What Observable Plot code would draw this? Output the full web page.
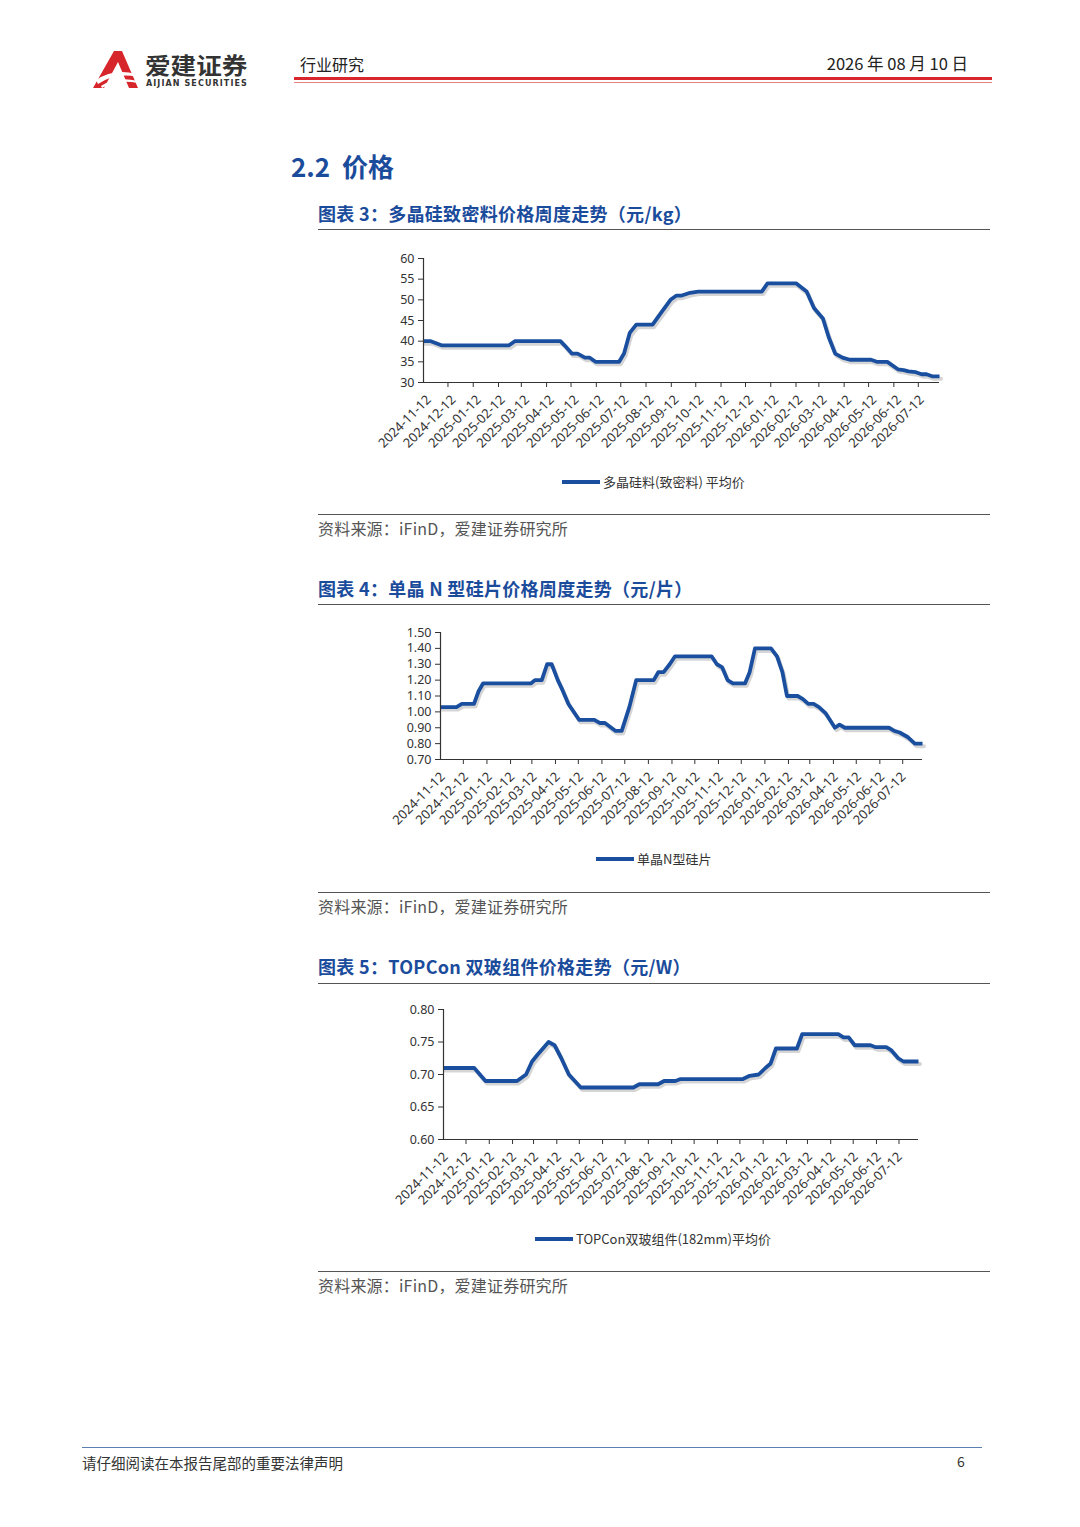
<!DOCTYPE html>
<html><head><meta charset="utf-8">
<script src="https://cdn.jsdelivr.net/npm/d3@7"></script>
<script src="https://cdn.jsdelivr.net/npm/@observablehq/plot@0.6"></script>
<style>
body{margin:0;background:#fff;font-family:"Noto Sans CJK SC","Noto Sans",sans-serif;}
#page{position:relative;width:1080px;height:1527px;overflow:hidden;background:#fff;}
.abs{position:absolute;white-space:nowrap;line-height:1.2;}
.hr{position:absolute;height:0;}
.title{color:#1b4c9c;font-weight:bold;font-size:18px;letter-spacing:0.3px;}
.src{color:#555;font-size:16px;letter-spacing:0.2px;}
.legend{position:absolute;font-size:13px;color:#333;display:flex;align-items:center;}
.legend span.sw{display:inline-block;width:38px;height:4px;background:#1a4f9f;margin-right:3px;}
.chart{position:absolute;}
</style></head>
<body><div id="page">
<!-- header -->
<svg class="abs" style="left:92px;top:50px" width="48" height="40" viewBox="0 0 48 40">
  <path d="M22 1 L30 1 L46 38 L37 38 L26 12 L12 38 L1 38 Z" fill="#d7262b"/>
  <path d="M4 30 Q22 18 44 24 L45 27 Q24 22 6 34 Z" fill="#fff"/>
  <path d="M9 36 Q24 26 46 31 L46 33 Q25 29 10 38 Z" fill="#fff"/>
</svg>
<div class="abs" style="left:145px;top:54px;font-size:20px;line-height:20px;height:20px;font-weight:bold;color:#333;transform:scale(1.28,1.12);transform-origin:0 0">爱建证券</div>
<div class="abs" style="left:146px;top:80px;font-size:8px;line-height:8px;font-weight:bold;color:#333;font-family:'DejaVu Sans';letter-spacing:1.1px">AIJIAN SECURITIES</div>
<div class="abs" style="left:300px;top:55px;font-size:16px;color:#222">行业研究</div>
<div class="abs" style="right:112px;top:54px;font-size:16.5px;color:#222">2026 年 08 月 10 日</div>
<div class="hr" style="left:294px;top:77px;width:698px;border-top:3px solid #d9262c"></div>
<div class="hr" style="left:294px;top:81.5px;width:698px;border-top:1px solid #e58080"></div>

<div class="abs" style="left:291px;top:150px;font-size:26px;font-weight:bold;color:#1b4c9c">2.2&nbsp; 价格</div>

<!-- chart 3 -->
<div class="abs title" style="left:318px;top:203px">图表 3：多晶硅致密料价格周度走势（元/kg）</div>
<div class="hr" style="left:318px;top:229px;width:672px;border-top:1.5px solid #555"></div>
<div id="c1" class="chart" style="left:318px;top:245px"></div>
<div class="legend" style="left:562px;top:472px"><span class="sw"></span>多晶硅料(致密料) 平均价</div>
<div class="hr" style="left:318px;top:514px;width:672px;border-top:1.5px solid #555"></div>
<div class="abs src" style="left:318px;top:519px">资料来源：iFinD，爱建证券研究所</div>

<!-- chart 4 -->
<div class="abs title" style="left:318px;top:578px">图表 4：单晶 N 型硅片价格周度走势（元/片）</div>
<div class="hr" style="left:318px;top:604px;width:672px;border-top:1.5px solid #555"></div>
<div id="c2" class="chart" style="left:318px;top:620px"></div>
<div class="legend" style="left:596px;top:849px"><span class="sw"></span>单晶N型硅片</div>
<div class="hr" style="left:318px;top:892px;width:672px;border-top:1.5px solid #555"></div>
<div class="abs src" style="left:318px;top:897px">资料来源：iFinD，爱建证券研究所</div>

<!-- chart 5 -->
<div class="abs title" style="left:318px;top:956px">图表 5：TOPCon 双玻组件价格走势（元/W）</div>
<div class="hr" style="left:318px;top:983px;width:672px;border-top:1.5px solid #555"></div>
<div id="c3" class="chart" style="left:318px;top:995px"></div>
<div class="legend" style="left:535px;top:1229px"><span class="sw"></span>TOPCon双玻组件(182mm)平均价</div>
<div class="hr" style="left:318px;top:1271px;width:672px;border-top:1.5px solid #555"></div>
<div class="abs src" style="left:318px;top:1276px">资料来源：iFinD，爱建证券研究所</div>

<!-- footer -->
<div class="hr" style="left:82px;top:1447px;width:900px;border-top:1px solid #5a7fb0"></div>
<div class="abs" style="left:82px;top:1454px;font-size:14.5px;color:#333">请仔细阅读在本报告尾部的重要法律声明</div>
<div class="abs" style="left:957px;top:1453px;font-size:14px;color:#333">6</div>
</div>
<script>
// ---- x axis categories (month labels) ----
const monthLabels = ["2024-11-12","2024-12-12","2025-01-12","2025-02-12","2025-03-12","2025-04-12","2025-05-12","2025-06-12","2025-07-12","2025-08-12","2025-09-12","2025-10-12","2025-11-12","2025-12-12","2026-01-12","2026-02-12","2026-03-12","2026-04-12","2026-05-12","2026-06-12","2026-07-12"];
const startDate = "2024-11-12";
const endDate = "2026-08-07";

// ---- chart 3: polysilicon dense material (元/kg) ----
const polyDates = ["2024-11-12","2024-11-21","2024-12-04","2025-02-25","2025-03-04","2025-04-29","2025-05-04","2025-05-13","2025-05-20","2025-05-29","2025-06-04","2025-06-11","2025-07-10","2025-07-16","2025-07-23","2025-07-31","2025-08-20","2025-08-31","2025-09-11","2025-09-18","2025-09-24","2025-10-05","2025-10-15","2026-01-01","2026-01-08","2026-02-12","2026-02-25","2026-03-06","2026-03-17","2026-03-24","2026-04-01","2026-04-10","2026-04-19","2026-05-15","2026-05-22","2026-06-04","2026-06-17","2026-06-24","2026-06-30","2026-07-09","2026-07-16","2026-07-22","2026-07-29","2026-08-07"];
const polyValues = [40,40,39,39,40,40,39,37,37,36,36,35,35,37,42,44,44,47,50,51,51,51.7,52,52,54,54,52,48,45.5,41,37,36,35.5,35.5,35,35,33.2,33,32.7,32.5,32,32,31.5,31.5];

// ---- chart 4: mono N-type wafer (元/片) ----
const waferDates = ["2024-11-12","2024-12-03","2024-12-10","2024-12-26","2025-01-01","2025-01-07","2025-03-11","2025-03-16","2025-03-25","2025-04-01","2025-04-07","2025-04-11","2025-04-15","2025-04-20","2025-04-29","2025-05-13","2025-06-02","2025-06-09","2025-06-16","2025-06-30","2025-07-08","2025-07-18","2025-07-27","2025-08-19","2025-08-25","2025-09-01","2025-09-09","2025-09-16","2025-11-03","2025-11-10","2025-11-17","2025-11-24","2025-12-01","2025-12-17","2025-12-23","2025-12-30","2026-01-20","2026-01-28","2026-02-04","2026-02-10","2026-02-24","2026-03-03","2026-03-10","2026-03-17","2026-03-24","2026-04-02","2026-04-14","2026-04-20","2026-04-27","2026-06-24","2026-07-01","2026-07-08","2026-07-19","2026-07-28","2026-08-07"];
const waferValues = [1.03,1.03,1.05,1.05,1.13,1.18,1.18,1.20,1.20,1.30,1.30,1.25,1.20,1.15,1.05,0.95,0.95,0.93,0.93,0.88,0.88,1.03,1.20,1.20,1.25,1.25,1.30,1.35,1.35,1.30,1.28,1.20,1.18,1.18,1.25,1.40,1.40,1.35,1.25,1.10,1.10,1.08,1.05,1.05,1.03,0.99,0.90,0.92,0.90,0.90,0.88,0.87,0.84,0.80,0.80];

// ---- chart 5: TOPCon bifacial module (元/W) ----
const moduleDates = ["2024-11-12","2024-12-23","2025-01-07","2025-02-18","2025-03-02","2025-03-10","2025-03-17","2025-04-01","2025-04-09","2025-04-18","2025-04-28","2025-05-14","2025-07-23","2025-07-31","2025-08-25","2025-09-02","2025-09-17","2025-09-24","2025-12-16","2025-12-25","2026-01-06","2026-01-15","2026-01-22","2026-01-29","2026-02-26","2026-03-05","2026-04-22","2026-04-29","2026-05-06","2026-05-14","2026-06-04","2026-06-11","2026-06-25","2026-07-02","2026-07-11","2026-07-18","2026-08-07"];
const moduleValues = [0.71,0.71,0.69,0.69,0.70,0.72,0.73,0.75,0.745,0.725,0.70,0.68,0.68,0.685,0.685,0.69,0.69,0.693,0.693,0.698,0.70,0.71,0.717,0.74,0.74,0.762,0.762,0.757,0.757,0.745,0.745,0.742,0.742,0.737,0.725,0.72,0.72];

const LINE = "#1a4f9f";
const parse = s => new Date(s + "T00:00:00Z");
const labelDates = monthLabels.map(parse);
const tickDates = labelDates.slice(1);
const bounds = labelDates.concat([parse(endDate)]);
const midDates = labelDates.map((d, i) => new Date((+d + +bounds[i + 1]) / 2));
const midLabel = new Map(midDates.map((d, i) => [+d, monthLabels[i]]));

function draw(id, dates, values, opt) {
  const data = dates.map((d, i) => ({date: parse(d), value: values[i]}));
  const x0 = parse(startDate), x1 = parse(endDate);
  const chart = Plot.plot({
    width: opt.width, height: opt.height,
    marginLeft: opt.ml, marginRight: opt.mr, marginTop: opt.mt, marginBottom: opt.mb,
    style: {fontFamily: "'Noto Sans', sans-serif", fontSize: "12px", color: "#333", background: "transparent", overflow: "visible"},
    x: {type: "utc", domain: [x0, x1], axis: null},
    y: {domain: opt.ydomain, axis: null},
    marks: [
      Plot.line(data, {x: "date", y: "value", stroke: "#888", strokeOpacity: 0.35, strokeWidth: 4, dx: 1.5, dy: 2.5}),
      Plot.line(data, {x: "date", y: "value", stroke: LINE, strokeWidth: 3.8, strokeLinejoin: "round", strokeLinecap: "butt"}),
      Plot.axisY({ticks: opt.yticks, tickSize: 5, tickPadding: 4, tickFormat: opt.yfmt, fontSize: opt.yfs, stroke: "#333", label: null}),
      Plot.axisX({ticks: tickDates, tickSize: 5, tickFormat: () => "", stroke: "#333", label: null}),
      Plot.axisX({ticks: midDates, tickSize: 0, tickPadding: opt.tp, tickRotate: -45, tickFormat: d => midLabel.get(+d), fontSize: opt.xfs, fill: "#333", dx: opt.ldx, label: null}),
      Plot.ruleX([x0], {stroke: "#333", strokeWidth: 1.2}),
      Plot.ruleY([opt.ydomain[0]], {stroke: "#333", strokeWidth: 1.2})
    ]
  });
  document.getElementById(id).appendChild(chart);
}

draw("c1", polyDates, polyValues, {width: 672, height: 225, ml: 105, mr: 51, mt: 13, mb: 88,
  ydomain: [30, 60], yticks: [30,35,40,45,50,55,60], yfmt: d3.format("d"), yfs: "12.5px", xfs: "13px", tp: 15, ldx: -7});
draw("c2", waferDates, waferValues, {width: 672, height: 225, ml: 122, mr: 68, mt: 12, mb: 86,
  ydomain: [0.7, 1.5], yticks: [0.7,0.8,0.9,1.0,1.1,1.2,1.3,1.4,1.5], yfmt: d3.format(".2f"), yfs: "12.5px", xfs: "13px", tp: 15, ldx: -9});
draw("c3", moduleDates, moduleValues, {width: 672, height: 230, ml: 125, mr: 72, mt: 14, mb: 86,
  ydomain: [0.6, 0.8], yticks: [0.6,0.65,0.7,0.75,0.8], yfmt: d3.format(".2f"), yfs: "12.5px", xfs: "13px", tp: 15, ldx: -9});
</script>
</body></html>
